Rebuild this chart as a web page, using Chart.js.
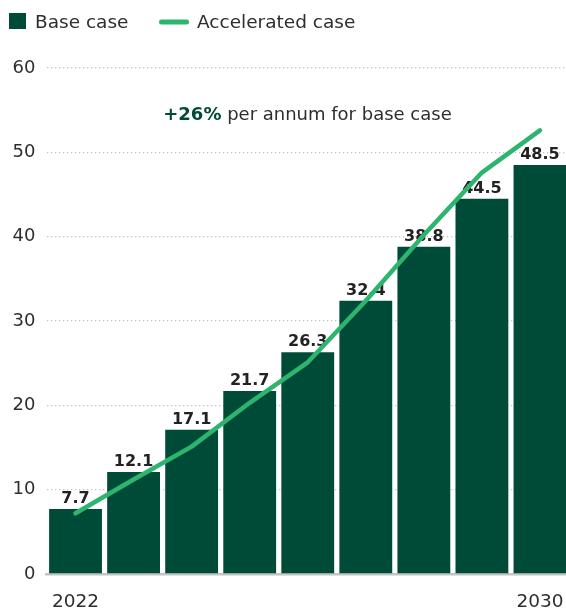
<!DOCTYPE html>
<html><head><meta charset="utf-8">
<script src="https://cdn.jsdelivr.net/npm/chart.js@4"></script>
<style>html,body{margin:0;padding:0;background:#fff;overflow:hidden;width:566px;height:609px}#wrap{width:569px;height:609px;position:relative}</style>
</head><body><div id="wrap"><canvas id="c"></canvas></div>
<script>
const categories = ['2022','2023','2024','2025','2026','2027','2028','2029','2030'];
const baseCase = [7.7, 12.1, 17.1, 21.7, 26.3, 32.4, 38.8, 44.5, 48.5];
const acceleratedCase = [7.2, 11.2, 15.1, 20.3, 25.1, 32.4, 40.2, 47.6, 52.6];
const yTickValues = [0, 10, 20, 30, 40, 50, 60];
const shownXLabels = ['2022', '2030'];
const seriesNames = ['Base case', 'Accelerated case'];
const annotationBold = '+26%';
const annotationRest = ' per annum for base case';

const BAR = '#004b37';
const LINE = '#2db56f';
const TEXT = '#2e2e2e';
const FONT = '"DejaVu Sans", sans-serif';

const extras = {
  id: 'extras',
  afterDatasetDraw(chart, args) {
    if (args.index !== 0) return;
    const ctx = chart.ctx;
    const meta = chart.getDatasetMeta(0);
    ctx.save();
    ctx.font = 'bold 16px ' + FONT;
    ctx.fillStyle = '#222';
    ctx.textAlign = 'center';
    ctx.textBaseline = 'alphabetic';
    meta.data.forEach((el, i) => {
      ctx.fillText(baseCase[i].toFixed(1), el.x, el.y - 6);
    });
    ctx.restore();
  },
  afterDraw(chart) {
    const ctx = chart.ctx;
    const area = chart.chartArea;
    ctx.save();
    // legend
    ctx.fillStyle = BAR;
    ctx.fillRect(9, 13, 17, 16);
    ctx.font = '18.5px ' + FONT;
    ctx.fillStyle = TEXT;
    ctx.textBaseline = 'alphabetic';
    ctx.textAlign = 'left';
    ctx.fillText(seriesNames[0], 35, 28);
    ctx.strokeStyle = LINE;
    ctx.lineWidth = 5;
    ctx.lineCap = 'round';
    ctx.beginPath();
    ctx.moveTo(161.5, 22);
    ctx.lineTo(186.5, 22);
    ctx.stroke();
    ctx.fillText(seriesNames[1], 197, 28);
    // annotation
    const cx = 307.5;
    const y = area.top + 52;
    ctx.font = 'bold 18px ' + FONT;
    const w1 = ctx.measureText(annotationBold).width;
    ctx.font = '18px ' + FONT;
    const w2 = ctx.measureText(annotationRest).width;
    let x = cx - (w1 + w2) / 2;
    ctx.font = 'bold 18px ' + FONT;
    ctx.fillStyle = BAR;
    ctx.fillText(annotationBold, x, y);
    ctx.font = '18px ' + FONT;
    ctx.fillStyle = TEXT;
    ctx.fillText(annotationRest, x + w1, y);
    ctx.restore();
  }
};

new Chart(document.getElementById('c'), {
  data: {
    labels: categories,
    datasets: [
      { type: 'bar', label: seriesNames[0], data: baseCase, backgroundColor: BAR,
        barPercentage: 0.91, categoryPercentage: 1.0, order: 2 },
      { type: 'line', label: seriesNames[1], data: acceleratedCase, borderColor: LINE,
        borderWidth: 4.5, pointRadius: 0, tension: 0, borderCapStyle: 'round',
        borderJoinStyle: 'round', fill: false, order: 1 }
    ]
  },
  options: {
    responsive: true,
    maintainAspectRatio: false,
    animation: false,
    layout: { padding: { top: 68, right: 0, left: 0, bottom: 0 } },
    plugins: { legend: { display: false }, tooltip: { enabled: false } },
    scales: {
      x: {
        z: 1,
        grid: { display: false, drawTicks: false },
        border: { display: true, color: '#c4c4c4', width: 2.5 },
        ticks: {
          autoSkip: false, maxRotation: 0, padding: 17, color: TEXT,
          font: { family: FONT, size: 18.5 },
          callback: (v, i) => shownXLabels.includes(categories[i]) ? categories[i] : ''
        },
        afterFit: s => { s.height = 35; s.paddingLeft = 0; s.paddingRight = 0; }
      },
      y: {
        min: 0, max: 60,
        afterBuildTicks: s => { s.ticks = yTickValues.map(v => ({ value: v })); },
        grid: { color: '#c2c2c2', lineWidth: 1.3, drawTicks: false },
        border: { display: false, dash: [1.3, 2.7] },
        ticks: { padding: 11, color: TEXT, font: { family: FONT, size: 18 } },
        afterFit: s => { s.width = 46.5; s.paddingTop = 0; s.paddingBottom = 0; }
      }
    }
  },
  plugins: [extras]
});
</script></body></html>
